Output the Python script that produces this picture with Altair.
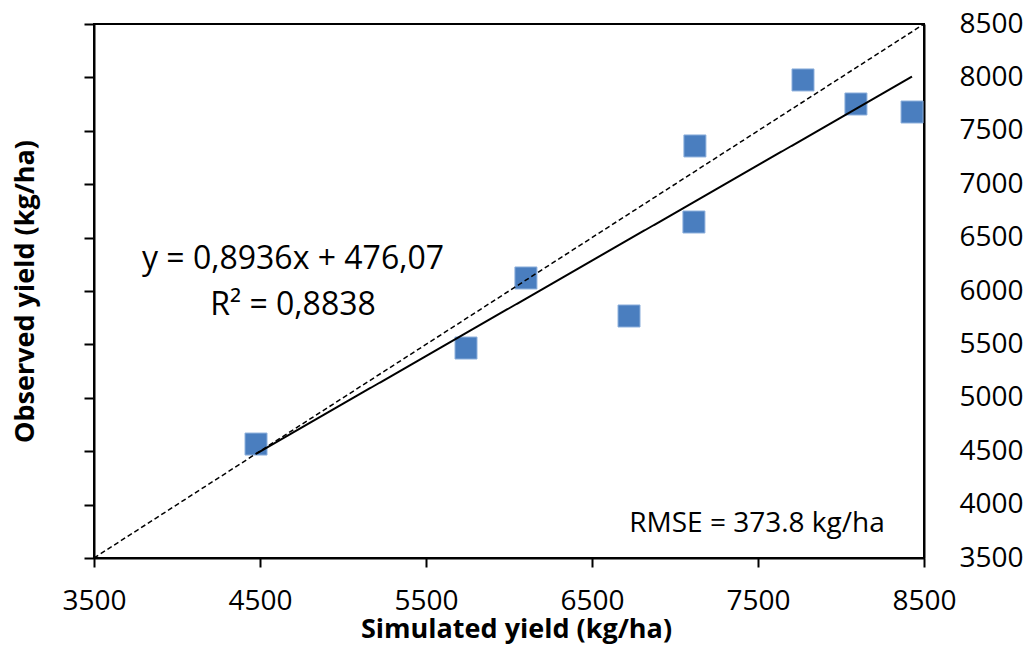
import altair as alt
import pandas as pd

# ---- data ----
simulated = [4476, 5741, 6102, 6723, 7114, 7120, 7771, 8090, 8428]
observed = [4567, 5466, 6122, 5766, 6646, 7358, 7976, 7751, 7676]
slope = 0.8936
intercept = 476.07
axis_range = [3500, 8500]
x_ticks = [3500, 4500, 5500, 6500, 7500, 8500]
y_ticks = [3500, 4000, 4500, 5000, 5500, 6000, 6500, 7000, 7500, 8000, 8500]
eq_text = "y = 0,8936x + 476,07"
r2_text = "R² = 0,8838"
rmse_text = "RMSE = 373.8 kg/ha"
x_title = "Simulated yield (kg/ha)"
y_title = "Observed yield (kg/ha)"

points_df = pd.DataFrame({"sim": simulated, "obs": observed})
fit_x = [min(simulated), max(simulated)]
lines_df = pd.DataFrame({
    "sim": axis_range + fit_x,
    "obs": axis_range + [slope * v + intercept for v in fit_x],
    "kind": ["one", "one", "fit", "fit"],
})

FONT = "Open Sans"
xscale = alt.Scale(domain=axis_range, nice=False, zero=False)
yscale = alt.Scale(domain=axis_range, nice=False, zero=False)

x_axis = alt.Axis(values=x_ticks, title=x_title, tickSize=9, labelPadding=20,
                  titlePadding=1, titleX=422, format="d", labelFlush=False,
                  labelOverlap=False)

points = alt.Chart(points_df).mark_square(
    size=484, color="#4A7EBF", opacity=1, stroke="#8DB0DC", strokeWidth=1
).encode(
    x=alt.X("sim:Q", scale=xscale, axis=x_axis),
    y=alt.Y("obs:Q", scale=yscale,
            axis=alt.Axis(orient="left", values=y_ticks, labels=False, tickSize=10,
                          title=y_title, titlePadding=44)),
)

lines = alt.Chart(lines_df).mark_line(color="black").encode(
    x=alt.X("sim:Q", scale=xscale, axis=x_axis),
    y=alt.Y("obs:Q", scale=yscale,
            axis=alt.Axis(orient="right", values=y_ticks, ticks=False, labelPadding=35,
                          title=None, format="d", labelFlush=False, labelOverlap=False)),
    strokeDash=alt.StrokeDash("kind:N", scale=alt.Scale(domain=["fit", "one"], range=[[1, 0], [5, 3]]), legend=None),
    strokeWidth=alt.StrokeWidth("kind:N", scale=alt.Scale(domain=["fit", "one"], range=[2, 1.5]), legend=None),
)

def label(txt, px, py, size):
    return alt.Chart(pd.DataFrame({"t": [txt]})).mark_text(
        font=FONT, fontSize=size, color="black", align="center", baseline="alphabetic"
    ).encode(text="t:N", x=alt.value(px), y=alt.value(py))

eq = label(eq_text, 199, 245, 32)
r2 = label(r2_text, 199, 291, 32)
rmse = label(rmse_text, 663, 508, 28)

chart = alt.layer(points, lines, eq, r2, rmse).resolve_scale(y="independent").properties(
    width=830, height=534,
    autosize=alt.AutoSizeParams(type="none"),
    padding={"left": 94, "top": 24, "right": 100, "bottom": 87},
    background="white",
).configure_view(stroke="black", strokeWidth=2).configure_axis(
    grid=False, domainColor="black", domainWidth=2, tickColor="black", tickWidth=2,
    labelFont=FONT, labelFontSize=28, labelColor="black",
    titleFont=FONT, titleFontSize=27, titleFontWeight="bold", titleColor="black",
)

chart.save("out.html", embed_options={"renderer": "svg", "actions": False})
